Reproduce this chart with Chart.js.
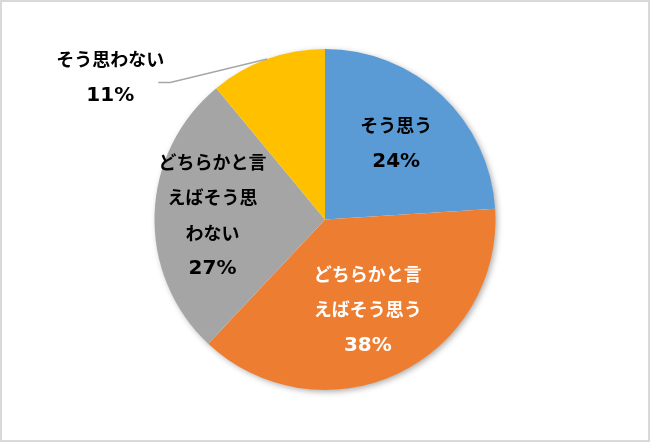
<!DOCTYPE html>
<html>
<head>
<meta charset="utf-8">
<script src="https://cdn.jsdelivr.net/npm/chart.js@4"></script>
<style>
  html, body { margin: 0; padding: 0; background: #fff; }
  canvas { display: block; }
</style>
</head>
<body>
<canvas id="chart" width="650" height="442"></canvas>
<script>
const categories = ['そう思う', 'どちらかと言えばそう思う', 'どちらかと言えばそう思わない', 'そう思わない'];
const values = [24, 38, 27, 11];
const labelLines = [['そう思う'], ['どちらかと言', 'えばそう思う'], ['どちらかと言', 'えばそう思', 'わない'], ['そう思わない']];
const colors = ['#5B9BD5', '#ED7D31', '#A5A5A5', '#FFC000'];
const labelColors = ['#000', '#fff', '#000', '#000'];
const labelRadius = [0.61, 0.59, 0.66, null]; // null = outside, with leader line

// soft shadow under the whole pie
const pieShadow = {
    id: 'pieShadow',
    beforeDatasetsDraw(chart) {
        const arc = chart.getDatasetMeta(0).data[0];
        if (!arc) return;
        const ctx = chart.ctx;
        ctx.save();
        ctx.shadowColor = 'rgba(0,0,0,0.35)';
        ctx.shadowBlur = 6;
        ctx.shadowOffsetX = 2;
        ctx.shadowOffsetY = 2;
        ctx.fillStyle = '#fff';
        ctx.beginPath();
        ctx.arc(arc.x, arc.y, arc.outerRadius - 0.5, 0, Math.PI * 2);
        ctx.fill();
        ctx.restore();
    }
};

// labels inside slices + outside label with leader
const sliceLabels = {
    id: 'sliceLabels',
    afterDatasetsDraw(chart) {
        const ctx = chart.ctx;
        const meta = chart.getDatasetMeta(0);
        const total = values.reduce((a, b) => a + b, 0);
        ctx.save();
        ctx.textAlign = 'center';
        ctx.textBaseline = 'middle';
        meta.data.forEach((arc, i) => {
            const { x, y, startAngle, endAngle, outerRadius } = arc.getProps(['x', 'y', 'startAngle', 'endAngle', 'outerRadius'], true);
            const mid = (startAngle + endAngle) / 2;
            const lines = labelLines[i].concat([Math.round(values[i] / total * 100) + '%']);
            let cx, cy;
            if (labelRadius[i] != null) {
                cx = x + Math.cos(mid) * outerRadius * labelRadius[i];
                cy = y + Math.sin(mid) * outerRadius * labelRadius[i];
            } else {
                const ex = x + Math.cos(mid) * outerRadius;
                const ey = y + Math.sin(mid) * outerRadius;
                ctx.strokeStyle = '#A6A6A6';
                ctx.lineWidth = 1.5;
                ctx.beginPath();
                ctx.moveTo(ex, ey);
                ctx.lineTo(ex - 97, ey + 23.5);
                ctx.lineTo(ex - 109, ey + 23.5);
                ctx.stroke();
                cx = ex - 157;
                cy = ey + 19;
            }
            ctx.fillStyle = labelColors[i];
            const gap = 35.5;
            lines.forEach((t, k) => {
                const last = k === lines.length - 1;
                ctx.font = last ? 'bold 20px "DejaVu Sans", sans-serif' : 'bold 18px "Noto Sans CJK JP", sans-serif';
                ctx.fillText(t, cx, cy + (k - (lines.length - 1) / 2) * gap + (last ? 0 : -1));
            });
        });
        ctx.restore();
    }
};

// light grey frame round the picture
const frame = {
    id: 'frame',
    afterDraw(chart) {
        const ctx = chart.ctx;
        ctx.save();
        ctx.strokeStyle = '#D9D9D9';
        ctx.lineWidth = 2;
        ctx.strokeRect(1, 1, chart.width - 2, chart.height - 2);
        ctx.restore();
    }
};

const ctx = document.getElementById('chart').getContext('2d');
new Chart(ctx, {
    type: 'pie',
    data: {
        labels: categories,
        datasets: [{
            data: values,
            backgroundColor: colors,
            borderWidth: 0
        }]
    },
    options: {
        responsive: false,
        animation: false,
        layout: { padding: { top: 49, bottom: 52, left: 0, right: 0 } },
        plugins: {
            legend: { display: false },
            tooltip: { enabled: false }
        }
    },
    plugins: [pieShadow, sliceLabels, frame]
});
</script>
</body>
</html>
